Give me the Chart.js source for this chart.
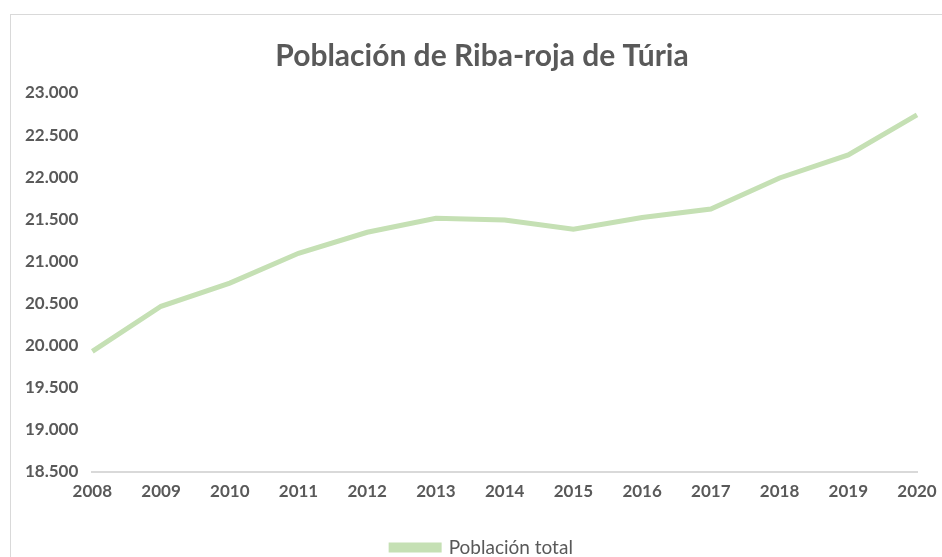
<!DOCTYPE html>
<html>
<head>
<meta charset="utf-8">
<script src="https://cdn.jsdelivr.net/npm/chart.js@4.4.1/dist/chart.umd.min.js"></script>
<style>
  html, body { margin: 0; padding: 0; background: #fff; overflow: hidden; }
  #frame {
    position: absolute; left: 10px; top: 14px; width: 1000px; height: 600px;
    border-left: 1px solid #d9d9d9; border-top: 1px solid #d9d9d9;
  }
  #wrap { position: absolute; left: 0; top: 0; width: 942px; height: 557px; overflow: hidden; }
</style>
</head>
<body>
<div id="frame"></div>
<div id="wrap"><canvas id="chart" width="942" height="567"></canvas></div>
<script>
// Población de Riba-roja de Túria, 2008-2020
const years = ['2008', '2009', '2010', '2011', '2012', '2013', '2014',
               '2015', '2016', '2017', '2018', '2019', '2020'];
const poblacion = [19930, 20465, 20740, 21095, 21345, 21510, 21490,
                   21380, 21520, 21620, 21990, 22265, 22740];
const yMin = 18500;
const yMax = 23000;
const yStep = 500;

const textColor = '#595959';
const lineColor = '#c5e0b4';
const fontFamily = 'Lato, "Noto Sans", sans-serif';

function fmtMiles(v) {
  return String(v).replace(/\B(?=(\d{3})+(?!\d))/g, '.');
}

// Excel centres title and legend on the whole frame, not the plot area
const shiftCentre = {
  id: 'shiftCentre',
  afterLayout(chart) {
    const dx = 14;
    for (const box of [chart.titleBlock, chart.legend]) {
      if (!box) continue;
      box.left += dx;
      box.right += dx;
    }
  },
};

const ctx = document.getElementById('chart');
new Chart(ctx, {
  type: 'line',
  data: {
    labels: years,
    datasets: [{
      label: 'Población total',
      data: poblacion,
      borderColor: lineColor,
      backgroundColor: lineColor,
      borderWidth: 5,
      pointRadius: 0,
      tension: 0,
    }],
  },
  options: {
    responsive: false,
    animation: false,
    layout: { padding: { left: 19, right: 25, top: 0, bottom: 0 } },
    plugins: {
      title: {
        display: true,
        text: 'Población de Riba-roja de Túria',
        color: textColor,
        font: { family: fontFamily, size: 30, weight: 'bold' },
        padding: { top: 38, bottom: 19 },
      },
      legend: {
        position: 'bottom',
        labels: {
          color: textColor,
          font: { family: fontFamily, size: 19 },
          boxWidth: 48,
          boxHeight: 5,
          padding: 3,
        },
      },
      tooltip: { enabled: false },
    },
    scales: {
      x: {
        offset: false,
        grid: { display: false },
        border: { display: true, color: '#d9d9d9', width: 2 },
        ticks: {
          color: textColor,
          font: { family: fontFamily, size: 17, weight: 'bold' },
          padding: 2,
          maxRotation: 0,
        },
        afterFit(scale) { scale.height += 31; },
      },
      y: {
        min: yMin,
        max: yMax,
        grid: { display: false },
        border: { display: false },
        ticks: {
          stepSize: yStep,
          color: textColor,
          font: { family: fontFamily, size: 17, weight: 'bold' },
          padding: 6,
          callback: (v) => fmtMiles(v),
        },
      },
    },
  },
  plugins: [shiftCentre],
});
</script>
</body>
</html>
